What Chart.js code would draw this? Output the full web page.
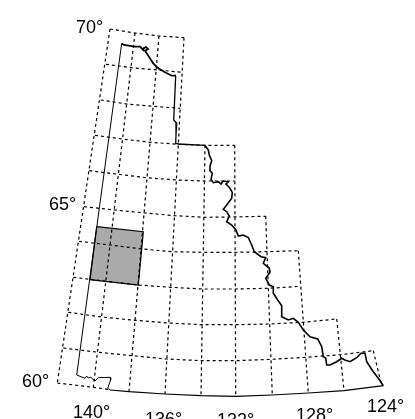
<!DOCTYPE html>
<html>
<head>
<meta charset="utf-8">
<style>
  html, body { margin: 0; padding: 0; background: #fff; }
  #map { display: block; }
</style>
<script src="https://cdn.jsdelivr.net/npm/chart.js@4"></script>
</head>
<body>
<canvas id="map" width="415" height="419"></canvas>
<script>
// map coordinates, as [x, y]

// === Meridians ===
const meridians = [
  [[110, 29], [57.3, 383]],
  [[135, 33], [93.3, 387.3]],
  [[159, 36], [129, 391.7]],
  [[184, 37.7], [165, 394]],
  [[205, 145.3], [201, 395.7]],
  [[234.7, 145.3], [235.7, 396.3]],
  [[265.7, 216.3], [272.3, 395]],
  [[298.3, 250.7], [308.3, 393]],
  [[336.7, 319], [344, 390.7]],
  [[373.3, 350.7], [381.7, 385.7]]
];

// === Parallels ===
const parallels = [
  [[110, 29], [135, 33], [159, 36], [184, 37.7]],
  [[106, 64.3], [131.7, 67.7], [157.3, 70], [182.7, 72.3]],
  [[100.7, 100], [126.7, 104], [154, 106.3], [180, 108.3]],
  [[95, 135.3], [122.3, 139], [150.7, 142.3], [178.3, 144.3], [205, 145.3], [234.7, 145.3]],
  [[89.3, 170.7], [118.3, 174.3], [146.7, 177.7], [176.7, 180], [205.7, 181], [234.7, 181]],
  [[84, 206.7], [115, 210], [145, 213], [175, 215.7], [205, 217.3], [235, 216.9], [265.7, 216.3]],
  [[79, 241.3], [110, 245], [142.3, 249], [172.7, 251.7], [204, 252.3], [235.7, 252.3], [266.7, 251.7], [298.3, 250.7]],
  [[73.3, 277.3], [106.7, 281.3], [138.3, 285], [170.7, 287.3], [202.7, 289], [235.7, 289], [268.3, 288.3], [300.7, 286.3]],
  [[68.3, 312.3], [101.7, 317], [135, 320.3], [169, 323], [202.3, 324.7], [236, 324.7], [269.3, 324], [302.7, 322.3], [336.7, 319]],
  [[63.3, 348], [98.3, 352.3], [132.3, 355.7], [166.7, 359], [201.7, 360.7], [236, 360.7], [271.7, 359.3], [306, 357.3], [340.7, 354.7], [373.3, 350.7]],
  [[57.3, 383], [93.3, 387.3], [108, 389.3]]
];

// === Outlines ===
const westBorder = [
  [121.7, 43.3], [76.7, 375], [85, 378.3], [86.7, 376], [88.3, 378], [90.7, 377.3],
  [95, 381], [98.3, 377.7], [110, 377.3], [110.7, 380], [107.7, 388.3], [110, 390]
];
const southBorder = [
  [110, 390], [129, 391.7], [165, 394], [201, 395.7], [235.7, 396.3], [272.3, 395],
  [308.3, 393], [344, 390.7], [383.3, 385.7]
];
const northCoast = [
  [121.7, 43.6], [124, 45], [135, 46.7], [140, 46.7], [143.3, 50], [144, 48],
  [146, 47], [148, 49], [145, 50.7], [146.7, 53.3], [151, 60], [153.3, 63.3], [158.3, 68.3],
  [165, 72.3], [171.7, 75.7], [176, 75.7]
];
const eastStep = [
  [175.7, 76], [173.7, 120], [176.7, 123.3], [176, 135], [175.7, 143.3], [178.3, 144],
  [205, 145.3]
];
const eastRiver = [
  [205, 145.3], [208.3, 150], [209.3, 155], [211.7, 160.7], [210, 166], [210, 170.7],
  [212.3, 173.3], [211, 179.3], [213.3, 182.7], [218.3, 181.7], [221, 184], [223.3, 181],
  [228.3, 181.7], [226, 184], [230, 188.3], [232.3, 192.7], [231.7, 198.3], [226.7, 205],
  [223.3, 209.3], [226.7, 211.7], [229.3, 216], [226.7, 221.7], [231.7, 225], [236, 230],
  [238.3, 236], [243.3, 235], [248.3, 237.5], [251.7, 245], [254.3, 251.7], [261, 256.7],
  [265.7, 257.7], [263.3, 263.3], [269.3, 268.3], [270, 272.3], [265.7, 278.3], [269.3, 285],
  [273.3, 286.7], [273.3, 293.3], [277.7, 300], [281.7, 305.7], [281.7, 316.7], [288.3, 320],
  [293.3, 318.3], [298.3, 322.3], [303.3, 330], [310, 336.7], [317.7, 339], [321.7, 346.7],
  [323.3, 356.7], [325.7, 358], [326.7, 365], [330, 365], [336.7, 361.7], [341.7, 358.3],
  [345, 360], [350, 361.7], [356.7, 357.7], [361, 353.3], [365, 353.3], [366.7, 361.7],
  [373.3, 371.7], [378.3, 378.3], [383.3, 385.7]
];
const studyArea = [[96.7, 226.7], [143.3, 231.7], [138.3, 285], [90, 279.7], [96.7, 226.7]];

// === Labels ===
const labelTexts = ["70°", "65°", "60°", "140°", "136°", "132°", "128°", "124°"];
const labelX = [76, 49, 22, 73, 145, 217, 296, 367];
const labelY = [28, 205, 382, 413, 420, 421, 416, 407];

const toPoints = line => line.map(p => ({ x: p[0], y: p[1] }));

function lineSet(line, width, extra) {
  return Object.assign({
    data: toPoints(line),
    showLine: true,
    pointRadius: 0,
    borderColor: "#000",
    borderWidth: width,
    tension: 0,
    fill: false
  }, extra);
}

const labelPlugin = {
  id: "mapLabels",
  afterDatasetsDraw(chart) {
    const { ctx, scales } = chart;
    ctx.save();
    ctx.font = '18px "Liberation Sans", Arial, sans-serif';
    ctx.fillStyle = "#000";
    ctx.textAlign = "left";
    ctx.textBaseline = "middle";
    labelTexts.forEach((text, i) => {
      ctx.fillText(text, scales.x.getPixelForValue(labelX[i]), scales.y.getPixelForValue(labelY[i]));
    });
    ctx.restore();
  }
};

const datasets = [
  lineSet(northCoast, 1.8),
  lineSet(eastRiver, 1.6),
  lineSet(eastStep, 1.3),
  lineSet(westBorder, 1),
  lineSet(southBorder, 1.2)
];
meridians.concat(parallels).forEach(line => {
  datasets.push(lineSet(line, 1.2, { borderDash: [3, 3] }));
});
datasets.push(lineSet(studyArea, 1.2, { fill: "shape", backgroundColor: "#aaaaaa" }));

new Chart(document.getElementById("map"), {
  type: "scatter",
  data: { datasets },
  options: {
    responsive: false,
    animation: false,
    layout: { padding: 0 },
    plugins: { legend: { display: false }, tooltip: { enabled: false } },
    scales: {
      x: { type: "linear", min: 0, max: 415, display: false },
      y: { type: "linear", min: 0, max: 419, reverse: true, display: false }
    }
  },
  plugins: [labelPlugin]
});
</script>
</body>
</html>
